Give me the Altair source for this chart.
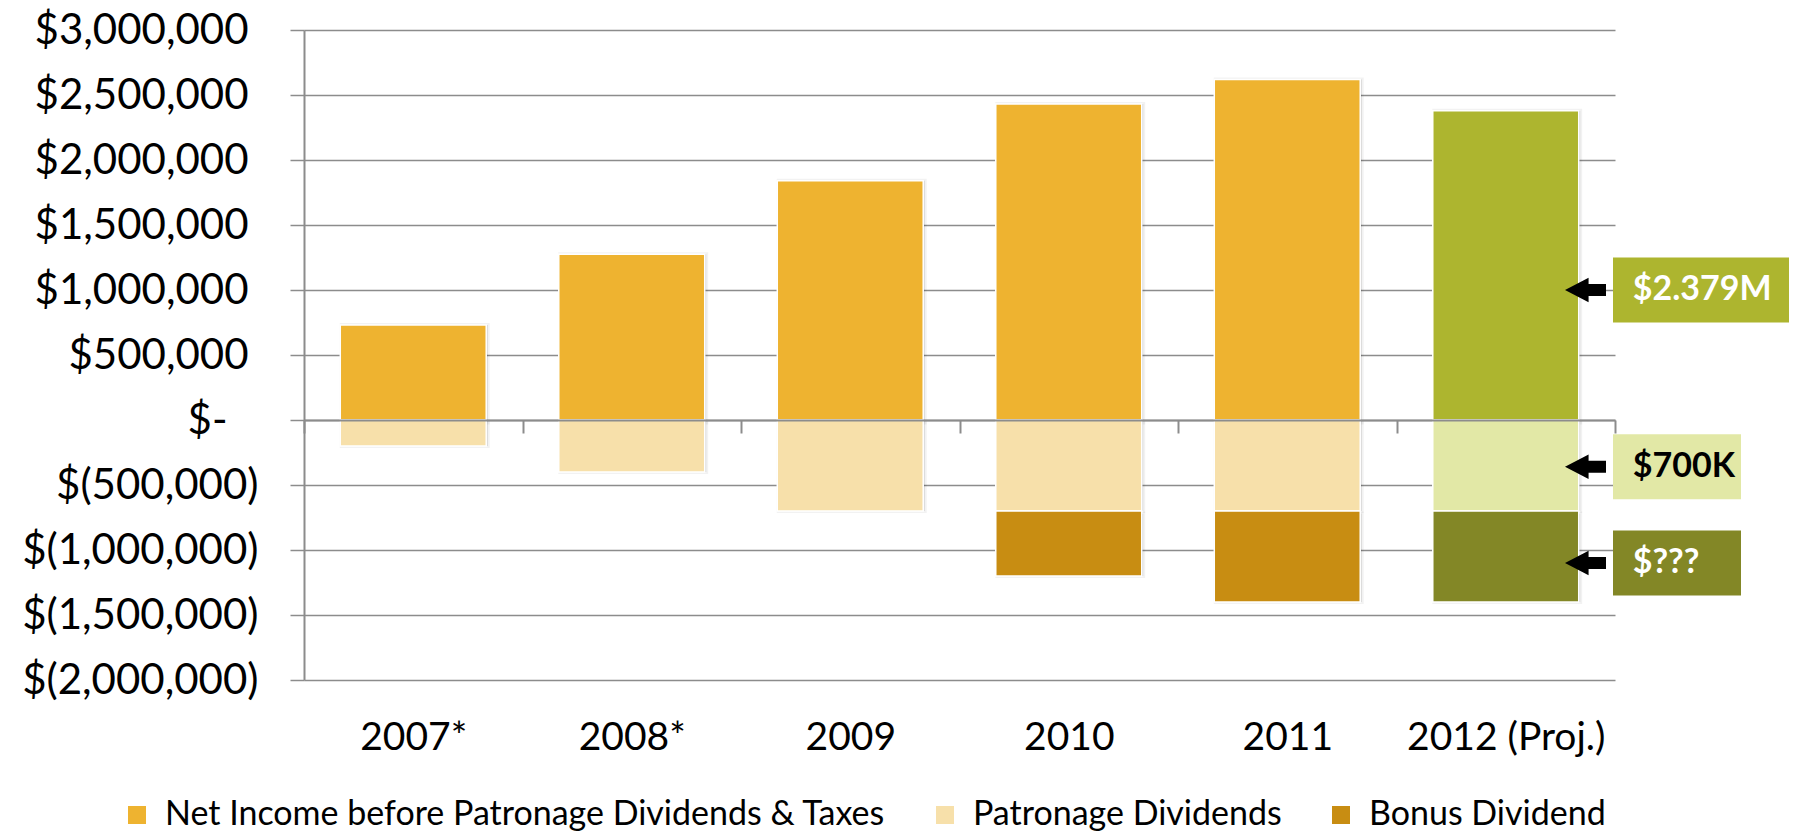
import altair as alt
import pandas as pd

# ---- data ----
years = ["2007*", "2008*", "2009", "2010", "2011", "2012 (Proj.)"]
net_income = [730000, 1275000, 1840000, 2430000, 2620000, 2379000]
patronage = [200000, 400000, 700000, 700000, 700000, 700000]
bonus = [0, 0, 0, 500000, 700000, 700000]

series = ["Net Income before Patronage Dividends & Taxes", "Patronage Dividends", "Bonus Dividend"]
main_colors = ["#EEB330", "#F7E0AA", "#C88D12"]
proj_colors = ["#ADB52F", "#E2E8A6", "#838726"]

ann_labels = ["$2.379M", "$700K", "$???"]
ann_center = [1000000, -360000, -1100000]
ann_fill = ["#ADB52F", "#E2E8A6", "#838726"]
ann_text = ["white", "black", "white"]
ann_wide = [True, False, False]

FONT = "Lato"
GRID = "#8c8c8c"

rows = []
for i, yr in enumerate(years):
    suffix = " (Proj.)" if yr.startswith("2012") else ""
    segs = [
        (series[0], 0, net_income[i]),
        (series[1], 0, -patronage[i]),
        (series[2], -patronage[i], -patronage[i] - bonus[i]),
    ]
    for name, s, e in segs:
        if s == e:
            continue
        rows.append({"year": yr, "series": name, "key": name + suffix, "start": s, "end": e})
df = pd.DataFrame(rows)

ann = pd.DataFrame({
    "year": [years[-1]] * 3,
    "label": ann_labels,
    "center": ann_center,
    "lo": [c - 250000 for c in ann_center],
    "hi": [c + 250000 for c in ann_center],
    "fill": ann_fill,
    "tcolor": ann_text,
    "wide": ann_wide,
})

color_domain = series + [s + " (Proj.)" for s in series]
color_range = main_colors + proj_colors

x_enc = alt.X(
    "year:N", sort=years, title=None,
    scale=alt.Scale(paddingInner=0, paddingOuter=0),
    axis=alt.Axis(
        orient="bottom", offset=-260, domain=True, domainColor=GRID, domainWidth=2,
        ticks=True, tickSize=13, tickColor=GRID, tickWidth=2, tickBand="extent",
        labelPadding=285, labelFontSize=39, labelFont=FONT, labelColor="black",
        labelAngle=0, grid=False, zindex=1, labelOverlap=False, labelLimit=0,
    ),
)

ylabel = ("datum.value > 0 ? '$' + format(datum.value, ',') : "
          "(datum.value < 0 ? '$(' + format(-datum.value, ',') + ')' : '$-')")

y_enc = alt.Y(
    "start:Q", title=None, stack=None,
    scale=alt.Scale(domain=[-2000000, 3000000], nice=False, zero=False),
    axis=alt.Axis(
        values=list(range(-2000000, 3000001, 500000)), labelExpr=ylabel,
        grid=True, gridColor=GRID, gridWidth=1.5,
        domain=True, domainColor=GRID, domainWidth=2,
        tickSize=14, tickColor=GRID, tickWidth=1.5,
        labelPadding={
            "condition": [
                {"test": "datum.value > 0", "value": 42},
                {"test": "datum.value == 0", "value": 63},
            ],
            "value": 32,
        },
        labelFontSize=42, labelFont=FONT, labelColor="black",
        zindex=0, labelLimit=0, labelOverlap=False,
    ),
)

base = alt.Chart(df)

shadow = base.mark_bar(
    color="black", fillOpacity=0.13, stroke="black", strokeOpacity=0.05, strokeWidth=4,
    xOffset=1.5, yOffset=2.5, width=alt.RelativeBandSize(0.668),
).encode(x=x_enc, y=y_enc, y2="end:Q")

bars = base.mark_bar(
    stroke="white", strokeWidth=1.5, width=alt.RelativeBandSize(0.668),
).encode(
    x=x_enc, y=y_enc, y2="end:Q",
    color=alt.Color(
        "key:N",
        scale=alt.Scale(domain=color_domain, range=color_range),
        legend=alt.Legend(
            values=series, title=None, orient="none", legendX=-184, legendY=768,
            direction="horizontal", symbolType="square", symbolSize=324,
            symbolStrokeWidth=0, labelFont=FONT, labelFontSize=34, labelColor="black",
            labelOffset=11, columnPadding=42, labelLimit=0,
        ),
    ),
)

abase = alt.Chart(ann)
box_wide = abase.transform_filter("datum.wide").mark_bar(width=176, xOffset=195.25).encode(
    x=alt.X("year:N", sort=years), y=alt.Y("lo:Q"), y2="hi:Q",
    color=alt.Color("fill:N", scale=None),
)
box_small = abase.transform_filter("!datum.wide").mark_bar(width=128, xOffset=171.25).encode(
    x=alt.X("year:N", sort=years), y=alt.Y("lo:Q"), y2="hi:Q",
    color=alt.Color("fill:N", scale=None),
)
texts = abase.mark_text(
    align="left", baseline="middle", dx=127, font=FONT, fontWeight="bold", fontSize=34,
).encode(
    x=alt.X("year:N", sort=years), y=alt.Y("center:Q"), text="label:N",
    color=alt.Color("tcolor:N", scale=None),
)
arrow_path = "M -1 0 L 0.15 -0.6 L 0.15 -0.29 L 1 -0.29 L 1 0.29 L 0.15 0.29 L 0.15 0.6 Z"
arrows = abase.mark_point(
    shape=arrow_path, size=1681, filled=True, color="black", opacity=1, strokeWidth=0,
    xOffset=79.75,
).encode(x=alt.X("year:N", sort=years), y=alt.Y("center:Q"))

chart = alt.layer(shadow, bars, box_wide, box_small, texts, arrows).properties(
    width=1311, height=650,
    autosize=alt.AutoSizeParams(type="none"),
    padding={"left": 304, "top": 30, "right": 178, "bottom": 155},
    background="white",
).configure_view(stroke=None)

chart.save("out.html", embed_options={"renderer": "svg", "actions": False})
